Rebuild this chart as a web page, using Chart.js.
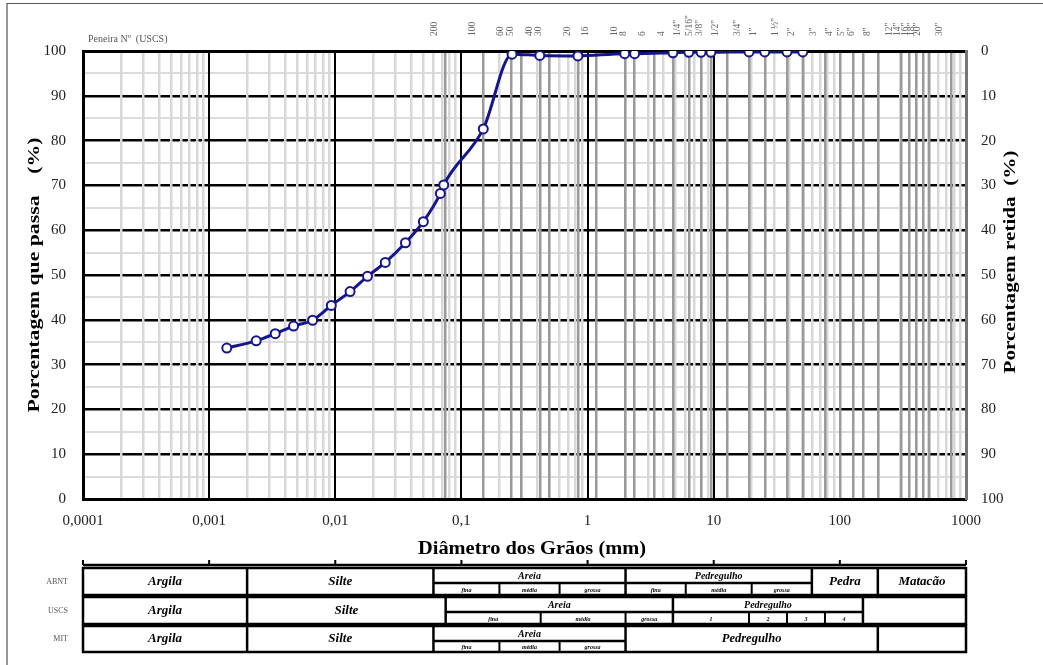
<!DOCTYPE html>
<html>
<head>
<meta charset="utf-8">
<script src="https://cdn.jsdelivr.net/npm/chart.js@4.4.1/dist/chart.umd.min.js"></script>
<style>
  html, body { margin: 0; padding: 0; background: #fff; }
  #caixa { width: 1043px; height: 665px; position: relative; }
</style>
</head>
<body>
<div id="caixa"><canvas id="curva"></canvas></div>
<script>
// Curva granulométrica: diâmetro dos grãos (mm) x porcentagem que passa
const diametros = [0.00138, 0.00236, 0.00334, 0.00467, 0.00661, 0.0093, 0.0131, 0.018, 0.0249, 0.036, 0.0499,
  0.0681, 0.0724, 0.149, 0.252, 0.418, 0.838, 1.97, 2.36, 4.75, 6.35, 7.94, 9.5, 19.05, 25.4, 38.1, 50.8];
const passantes = [33.7, 35.3, 36.9, 38.6, 39.9, 43.2, 46.3, 49.7, 52.8, 57.2, 61.9,
  68.2, 70.1, 82.6, 99.3, 99.0, 98.9, 99.4, 99.4, 99.6, 99.7, 99.7, 99.7, 99.8, 99.8, 99.8, 99.8];

// eixo inferior (décadas) e eixo superior (peneiras)
const decadas = [0.0001, 0.001, 0.01, 0.1, 1, 10, 100, 1000];
const rotulosX = ['0,0001', '0,001', '0,01', '0,1', '1', '10', '100', '1000'];
const peneiras = [0.075, 0.15, 0.25, 0.3, 0.425, 0.5, 0.85, 1.18, 2.0, 2.36, 3.35, 4.75, 6.35, 7.94, 9.5, 12.7,
  19.05, 25.4, 38.1, 50.8, 76.2, 101.6, 127, 152.4, 203.2, 304.8, 355.6, 406.4, 457.2, 508, 762];
const nomesPeneiras = ['200', '100', '60', '50', '40', '30', '20', '16', '10', '8', '6', '4', '1/4"', '5/16"', '3/8"', '1/2"',
  '3/4"', '1"', '1 ½"', '2"', '3"', '4"', '5"', '6"', '8"', '12"', '14"', '16"', '18"', '20"', '30"'];

// tabela de classificação (limites em mm)
const limitesABNT = [0.0001, 0.002, 0.06, 2, 60, 200, 1000];
const nomesABNT = ['Argila', 'Silte', 'Areia', 'Pedregulho', 'Pedra', 'Matacão'];
const subABNT = [[0.06, 0.2, 'fina'], [0.2, 0.6, 'média'], [0.6, 2, 'grossa'], [2, 6, 'fina'], [6, 20, 'média'], [20, 60, 'grossa']];
const limitesUSCS = [0.0001, 0.002, 0.075, 4.75, 152.4, 1000];
const nomesUSCS = ['Argila', 'Silte', 'Areia', 'Pedregulho', ''];
const subUSCS = [[0.075, 0.425, 'fina'], [0.425, 2, 'média'], [2, 4.75, 'grossa'], [4.75, 19.05, '1'], [19.05, 38.1, '2'], [38.1, 76.2, '3'], [76.2, 152.4, '4']];
const limitesMIT = [0.0001, 0.002, 0.06, 2, 200, 1000];
const nomesMIT = ['Argila', 'Silte', 'Areia', 'Pedregulho', ''];
const subMIT = [[0.06, 0.2, 'fina'], [0.2, 0.6, 'média'], [0.6, 2, 'grossa']];

const serif = '"Liberation Serif", "DejaVu Serif", serif';

function textoEsticado(ctx, txt, cx, cy, largura, ang, fonte, cor) {
  ctx.save();
  ctx.font = fonte;
  ctx.fillStyle = cor || '#000';
  const w = ctx.measureText(txt).width;
  ctx.translate(cx, cy);
  ctx.rotate(ang);
  ctx.scale(largura / w, 1);
  ctx.textAlign = 'center';
  ctx.textBaseline = 'middle';
  ctx.fillText(txt, 0, 0);
  ctx.restore();
}

function desenhaLinha(ctx, limites, nomes, subs, topo, meio, base, rotulo, x) {
  ctx.save();
  ctx.strokeStyle = '#000';
  ctx.fillStyle = '#000';
  ctx.lineWidth = 2.5;
  const px = v => x.getPixelForValue(v);
  ctx.strokeRect(px(limites[0]), topo, px(limites[limites.length - 1]) - px(limites[0]), base - topo);
  ctx.textAlign = 'center';
  ctx.textBaseline = 'middle';
  for (let i = 0; i < nomes.length; i++) {
    const a = limites[i], b = limites[i + 1];
    const xa = px(a), xb = px(b);
    if (i > 0) {
      ctx.beginPath(); ctx.moveTo(xa, topo); ctx.lineTo(xa, base); ctx.stroke();
    }
    const dentro = subs.filter(s => s[0] >= a - 1e-9 && s[1] <= b + 1e-9);
    if (dentro.length) {
      ctx.beginPath(); ctx.moveTo(xa, meio); ctx.lineTo(xb, meio); ctx.stroke();
      ctx.font = 'italic bold 10px ' + serif;
      ctx.fillText(nomes[i], (xa + xb) / 2, (topo + meio) / 2 + 1);
      dentro.forEach((s, k) => {
        const sa = px(s[0]), sb = px(s[1]);
        if (k > 0) { ctx.lineWidth = 2; ctx.beginPath(); ctx.moveTo(sa, meio); ctx.lineTo(sa, base); ctx.stroke(); ctx.lineWidth = 2.5; }
        ctx.font = 'italic bold 6px ' + serif;
        ctx.fillText(s[2], (sa + sb) / 2, (meio + base) / 2 + 1);
      });
    } else if (nomes[i]) {
      ctx.font = 'italic bold ' + (nomes[i] === 'Pedregulho' ? 12.5 : 13) + 'px ' + serif;
      ctx.fillText(nomes[i], (xa + xb) / 2, (topo + base) / 2);
    }
  }
  ctx.font = '8px ' + serif;
  ctx.fillStyle = '#555';
  ctx.textAlign = 'right';
  ctx.fillText(rotulo, 68, (topo + base) / 2);
  ctx.restore();
}

const desenhos = {
  id: 'desenhos',
  afterDraw(chart) {
    const ctx = chart.ctx;
    const x = chart.scales.x;
    // moldura da figura
    ctx.save();
    ctx.strokeStyle = '#555';
    ctx.lineWidth = 1.2;
    ctx.beginPath(); ctx.moveTo(7, 665); ctx.lineTo(7, 3.5); ctx.lineTo(1043, 3.5); ctx.stroke();
    ctx.restore();

    textoEsticado(ctx, 'Porcentagem que passa    (%)', 35, 275, 275, -Math.PI / 2, 'bold 17px ' + serif);
    textoEsticado(ctx, 'Porcentagem retida  (%)', 1011, 262, 223, -Math.PI / 2, 'bold 16px ' + serif);
    textoEsticado(ctx, 'Diâmetro dos Grãos (mm)', 532, 549, 228, 0, 'bold 18px ' + serif);
    ctx.save();
    ctx.font = '10px ' + serif;
    ctx.fillStyle = '#555';
    ctx.textBaseline = 'middle';
    ctx.fillText('Peneira Nº  (USCS)', chart.chartArea.left + 5, 39);
    ctx.restore();

    // eixo da tabela
    ctx.save();
    ctx.strokeStyle = '#000';
    ctx.lineWidth = 2.5;
    ctx.beginPath();
    ctx.moveTo(x.getPixelForValue(decadas[0]), 565);
    ctx.lineTo(x.getPixelForValue(decadas[decadas.length - 1]), 565);
    ctx.stroke();
    ctx.lineWidth = 2;
    decadas.forEach(d => {
      const p = x.getPixelForValue(d);
      ctx.beginPath(); ctx.moveTo(p, 565); ctx.lineTo(p, 560); ctx.stroke();
    });
    ctx.restore();

    desenhaLinha(ctx, limitesABNT, nomesABNT, subABNT, 568, 583, 595, 'ABNT', x);
    desenhaLinha(ctx, limitesUSCS, nomesUSCS, subUSCS, 597, 612, 624, 'USCS', x);
    desenhaLinha(ctx, limitesMIT, nomesMIT, subMIT, 626, 641, 652, 'MIT', x);
  }
};

const pontos = diametros.map((d, i) => ({ x: d, y: passantes[i] }));

new Chart(document.getElementById('curva'), {
  type: 'line',
  data: {
    datasets: [{
      data: pontos,
      borderColor: '#16168a',
      borderWidth: 3,
      backgroundColor: '#ffffff',
      pointBackgroundColor: '#ffffff',
      pointBorderColor: '#16168a',
      pointBorderWidth: 2,
      pointRadius: 4.5,
      cubicInterpolationMode: 'monotone',
      xAxisID: 'x',
      yAxisID: 'y'
    }]
  },
  options: {
    responsive: true,
    maintainAspectRatio: false,
    animation: false,
    layout: { padding: 0 },
    plugins: { legend: { display: false }, tooltip: { enabled: false } },
    scales: {
      x: {
        type: 'logarithmic',
        position: 'bottom',
        min: 0.0001,
        max: 1000,
        afterBuildTicks: s => {
          const t = [];
          decadas.forEach((d, i) => {
            t.push({ value: d, major: true });
            if (i < decadas.length - 1) for (let k = 2; k <= 9; k++) t.push({ value: d * k, major: false });
          });
          s.ticks = t;
        },
        afterFit: s => { s.height = 166; },
        ticks: {
          autoSkip: false, maxRotation: 0, minRotation: 0, padding: 13,
          font: { family: serif, size: 15 }, color: '#222',
          callback: v => { const i = decadas.indexOf(v); return i >= 0 ? rotulosX[i] : ''; }
        },
        grid: {
          z: -2, drawTicks: false,
          color: c => (c.tick && c.tick.major) ? '#000' : '#d8d8d8',
          lineWidth: c => (c.tick && c.tick.major) ? 2 : 2.5
        },
        border: { color: '#000', width: 3 }
      },
      x2: {
        type: 'logarithmic',
        position: 'top',
        min: 0.0001,
        max: 1000,
        afterBuildTicks: s => { s.ticks = peneiras.map(v => ({ value: v })); },
        afterFit: s => { s.height = 51; },
        ticks: {
          autoSkip: false, maxRotation: 90, minRotation: 90, padding: 15,
          font: { family: serif, size: 9.5 }, color: '#666',
          callback: (v, i) => nomesPeneiras[i]
        },
        grid: { z: -1, drawTicks: false, color: '#9a9a9a', lineWidth: 2.5 },
        border: { color: '#000', width: 3 }
      },
      y: {
        position: 'left',
        min: 0,
        max: 100,
        afterFit: s => { s.width = 83; },
        ticks: {
          stepSize: 5, padding: 17,
          font: { family: serif, size: 15 }, color: '#222',
          callback: v => (v % 10 === 0 ? v : '')
        },
        grid: {
          z: -3, drawTicks: false,
          color: c => (c.tick && c.tick.value % 10 === 0) ? '#000' : '#dcdcdc',
          lineWidth: c => (c.tick && c.tick.value % 10 === 0) ? 2.5 : 2
        },
        border: { color: '#000', width: 3 }
      },
      y2: {
        position: 'right',
        min: 0,
        max: 100,
        reverse: true,
        afterFit: s => { s.width = 77; },
        ticks: { stepSize: 10, padding: 7, font: { family: serif, size: 15 }, color: '#222' },
        grid: { display: false, drawOnChartArea: false },
        border: { color: '#777', width: 3 }
      }
    }
  },
  plugins: [desenhos]
});
</script>
</body>
</html>
